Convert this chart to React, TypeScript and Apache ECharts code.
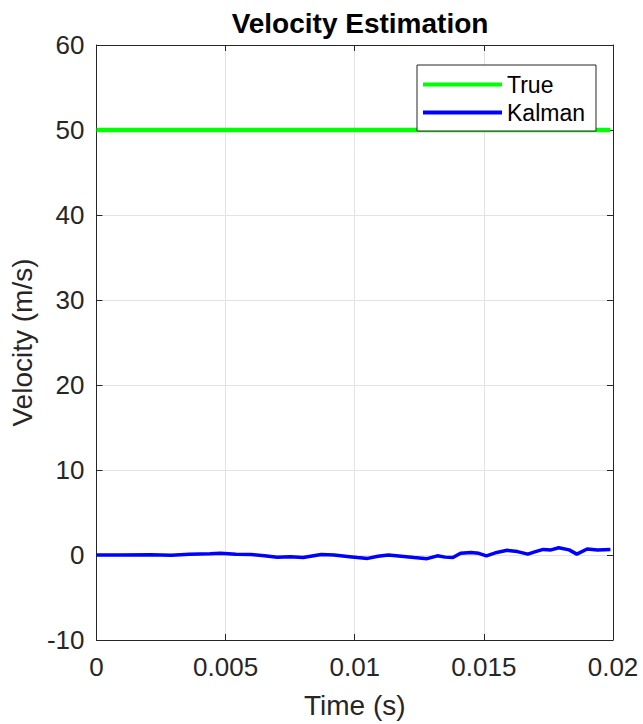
import React, { useEffect, useRef } from "react";
import * as echarts from "echarts";

const trueTime = [0, 0.0199];
const trueVelocity = [50, 50];

const kalmanTime = [
  0, 0.00093, 0.0021, 0.0029, 0.0036, 0.0044, 0.0048, 0.0054, 0.006, 0.0065,
  0.007, 0.0075, 0.008, 0.0087, 0.0092, 0.0098, 0.0101, 0.0105, 0.0109, 0.0113,
  0.0118, 0.0123, 0.0128, 0.0132, 0.0135, 0.0138, 0.0141, 0.0145, 0.0148, 0.0151,
  0.0155, 0.0159, 0.0163, 0.0167, 0.017, 0.0173, 0.0176, 0.0179, 0.0183, 0.0186,
  0.019, 0.0194, 0.0199,
];
const kalmanVelocity = [
  0, 0, 0.02, -0.02, 0.1, 0.15, 0.22, 0.1, 0.05, -0.1,
  -0.27, -0.2, -0.3, 0.05, 0.0, -0.2, -0.3, -0.4, -0.15, 0,
  -0.15, -0.3, -0.43, -0.1, -0.25, -0.3, 0.2, 0.3, 0.2, -0.1,
  0.3, 0.55, 0.4, 0.1, 0.4, 0.66, 0.6, 0.85, 0.6, 0.1,
  0.7, 0.6, 0.66,
];

const xTicks = ["0", "0.005", "0.01", "0.015", "0.02"];

export default function App() {
  const ref = useRef<HTMLDivElement>(null);
  useEffect(() => {
    if (!ref.current) return;
    const chart = echarts.init(ref.current, undefined, { renderer: "svg" });
    const font = "Arial, 'Liberation Sans', Helvetica, sans-serif";
    const axisLine = { show: true, onZero: false, lineStyle: { color: "#262626", width: 1 } };
    const tick = { show: true, inside: true, length: 6, lineStyle: { color: "#262626" } };
    chart.setOption({
      animation: false,
      backgroundColor: "#ffffff",
      textStyle: { fontFamily: font },
      title: {
        text: "Velocity Estimation",
        left: 355,
        textAlign: "center",
        top: 4,
        textStyle: { fontSize: 28, fontWeight: "bold", color: "#000", fontFamily: font },
      },
      grid: { left: 96, right: 30, top: 45, bottom: 79, containLabel: false },
      legend: {
        left: 417,
        top: 65,
        orient: "vertical",
        backgroundColor: "#fff",
        borderColor: "#262626",
        borderWidth: 1,
        borderRadius: 0,
        padding: [8, 11, 7, 6],
        itemGap: 5,
        itemWidth: 79,
        itemHeight: 4,
        icon: "rect",
        textStyle: { fontSize: 23, color: "#000", fontFamily: font },
        data: ["True", "Kalman"],
      },
      xAxis: [
        {
          type: "value",
          min: 0,
          max: 0.02,
          interval: 0.005,
          name: "Time (s)",
          nameLocation: "middle",
          nameGap: 51,
          nameTextStyle: { fontSize: 28, color: "#262626", fontFamily: font },
          axisLine,
          axisTick: tick,
          axisLabel: {
            fontSize: 26,
            color: "#262626",
            margin: 14,
            fontFamily: font,
            formatter: (v: number) => {
              const i = Math.round(v / 0.005);
              return xTicks[i] ?? "";
            },
          },
          splitLine: { show: true, lineStyle: { color: "#e3e3e3", width: 1 } },
        },
        {
          type: "value",
          position: "top",
          min: 0,
          max: 0.02,
          interval: 0.005,
          axisLine,
          axisTick: tick,
          axisLabel: { show: false },
          splitLine: { show: false },
        },
      ],
      yAxis: [
        {
          type: "value",
          min: -10,
          max: 60,
          interval: 10,
          name: "Velocity (m/s)",
          nameLocation: "middle",
          nameGap: 59,
          nameTextStyle: { fontSize: 28, color: "#262626", fontFamily: font },
          axisLine,
          axisTick: tick,
          axisLabel: { fontSize: 26, color: "#262626", margin: 12, fontFamily: font },
          splitLine: { show: true, lineStyle: { color: "#e3e3e3", width: 1 } },
        },
        {
          type: "value",
          position: "right",
          min: -10,
          max: 60,
          interval: 10,
          axisLine,
          axisTick: tick,
          axisLabel: { show: false },
          splitLine: { show: false },
        },
      ],
      series: [
        {
          name: "True",
          type: "line",
          showSymbol: false,
          symbol: "none",
          color: "#00ff00",
          lineStyle: { color: "#00ff00", width: 4.5 },
          data: trueTime.map((t, i) => [t, trueVelocity[i]]),
        },
        {
          name: "Kalman",
          type: "line",
          showSymbol: false,
          symbol: "none",
          color: "#0000ff",
          lineStyle: { color: "#0000ff", width: 3.5 },
          data: kalmanTime.map((t, i) => [t, kalmanVelocity[i]]),
        },
      ],
    });
    return () => chart.dispose();
  }, []);
  return <div ref={ref} style={{ width: 643, height: 724, position: "absolute", left: 0, top: 0 }} />;
}
